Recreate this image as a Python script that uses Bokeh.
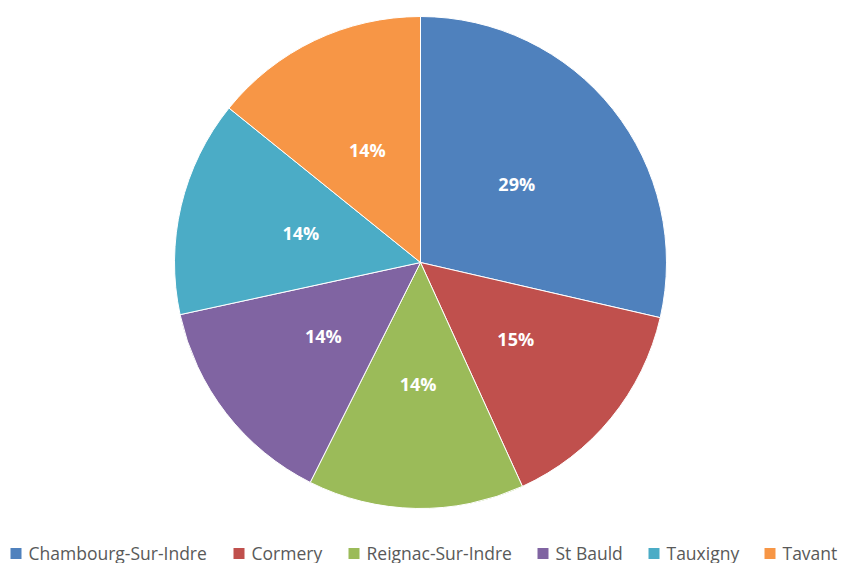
import math
from bokeh.plotting import figure
from bokeh.models import ColumnDataSource, Range1d
from bokeh.core.properties import value
from bokeh.embed import file_html
from bokeh.resources import INLINE

categories = ["Chambourg-Sur-Indre", "Cormery", "Reignac-Sur-Indre", "St Bauld", "Tauxigny", "Tavant"]
values = [28.6, 14.6, 14.2, 14.2, 14.2, 14.2]
colors = ["#4F81BD", "#C0504D", "#9BBB59", "#8064A2", "#4BACC6", "#F79646"]
legend_x = [10, 233, 348, 537, 648, 764]

W, H = 841, 563
cx, cy, R = 420, H - 262, 246

total = sum(values)
starts, ends, lx, ly, labels = [], [], [], [], []
cum = 0.0
for v in values:
    a0 = math.pi / 2 - 2 * math.pi * cum / total
    cum += v
    a1 = math.pi / 2 - 2 * math.pi * cum / total
    starts.append(a0)
    ends.append(a1)
    mid = (a0 + a1) / 2
    lx.append(cx + 0.5 * R * math.cos(mid))
    ly.append(cy + 0.5 * R * math.sin(mid) + 1.5)
    labels.append(f"{round(100 * v / total)}%")

src = ColumnDataSource(dict(start=starts, end=ends, color=colors, lx=lx, ly=ly, label=labels))

p = figure(width=W, height=H, output_backend="svg", toolbar_location=None,
           x_range=Range1d(0, W), y_range=Range1d(0, H), min_border=0)
p.axis.visible = False
p.grid.visible = False
p.outline_line_color = None
p.background_fill_color = "white"

p.wedge(x=cx, y=cy, radius=R, start_angle="start", end_angle="end", direction="clock",
        fill_color="color", line_color="white", line_width=1, source=src)

p.text(x="lx", y="ly", text="label", source=src, text_color="white",
       text_font=value("Open Sans"), text_font_style="bold", text_font_size="18px",
       text_align="center", text_baseline="middle")

leg = ColumnDataSource(dict(x=[x + 5.5 for x in legend_x], tx=[x + 18 for x in legend_x],
                            name=categories, color=colors))
p.rect(x="x", y=H - 553, width=11, height=11, fill_color="color", line_color=None, source=leg)
p.text(x="tx", y=H - 552, text="name", source=leg, text_color="#595959",
       text_font=value("Open Sans"), text_font_size="17.5px",
       text_align="left", text_baseline="middle")

open("out.html", "w").write(file_html(p, INLINE))
